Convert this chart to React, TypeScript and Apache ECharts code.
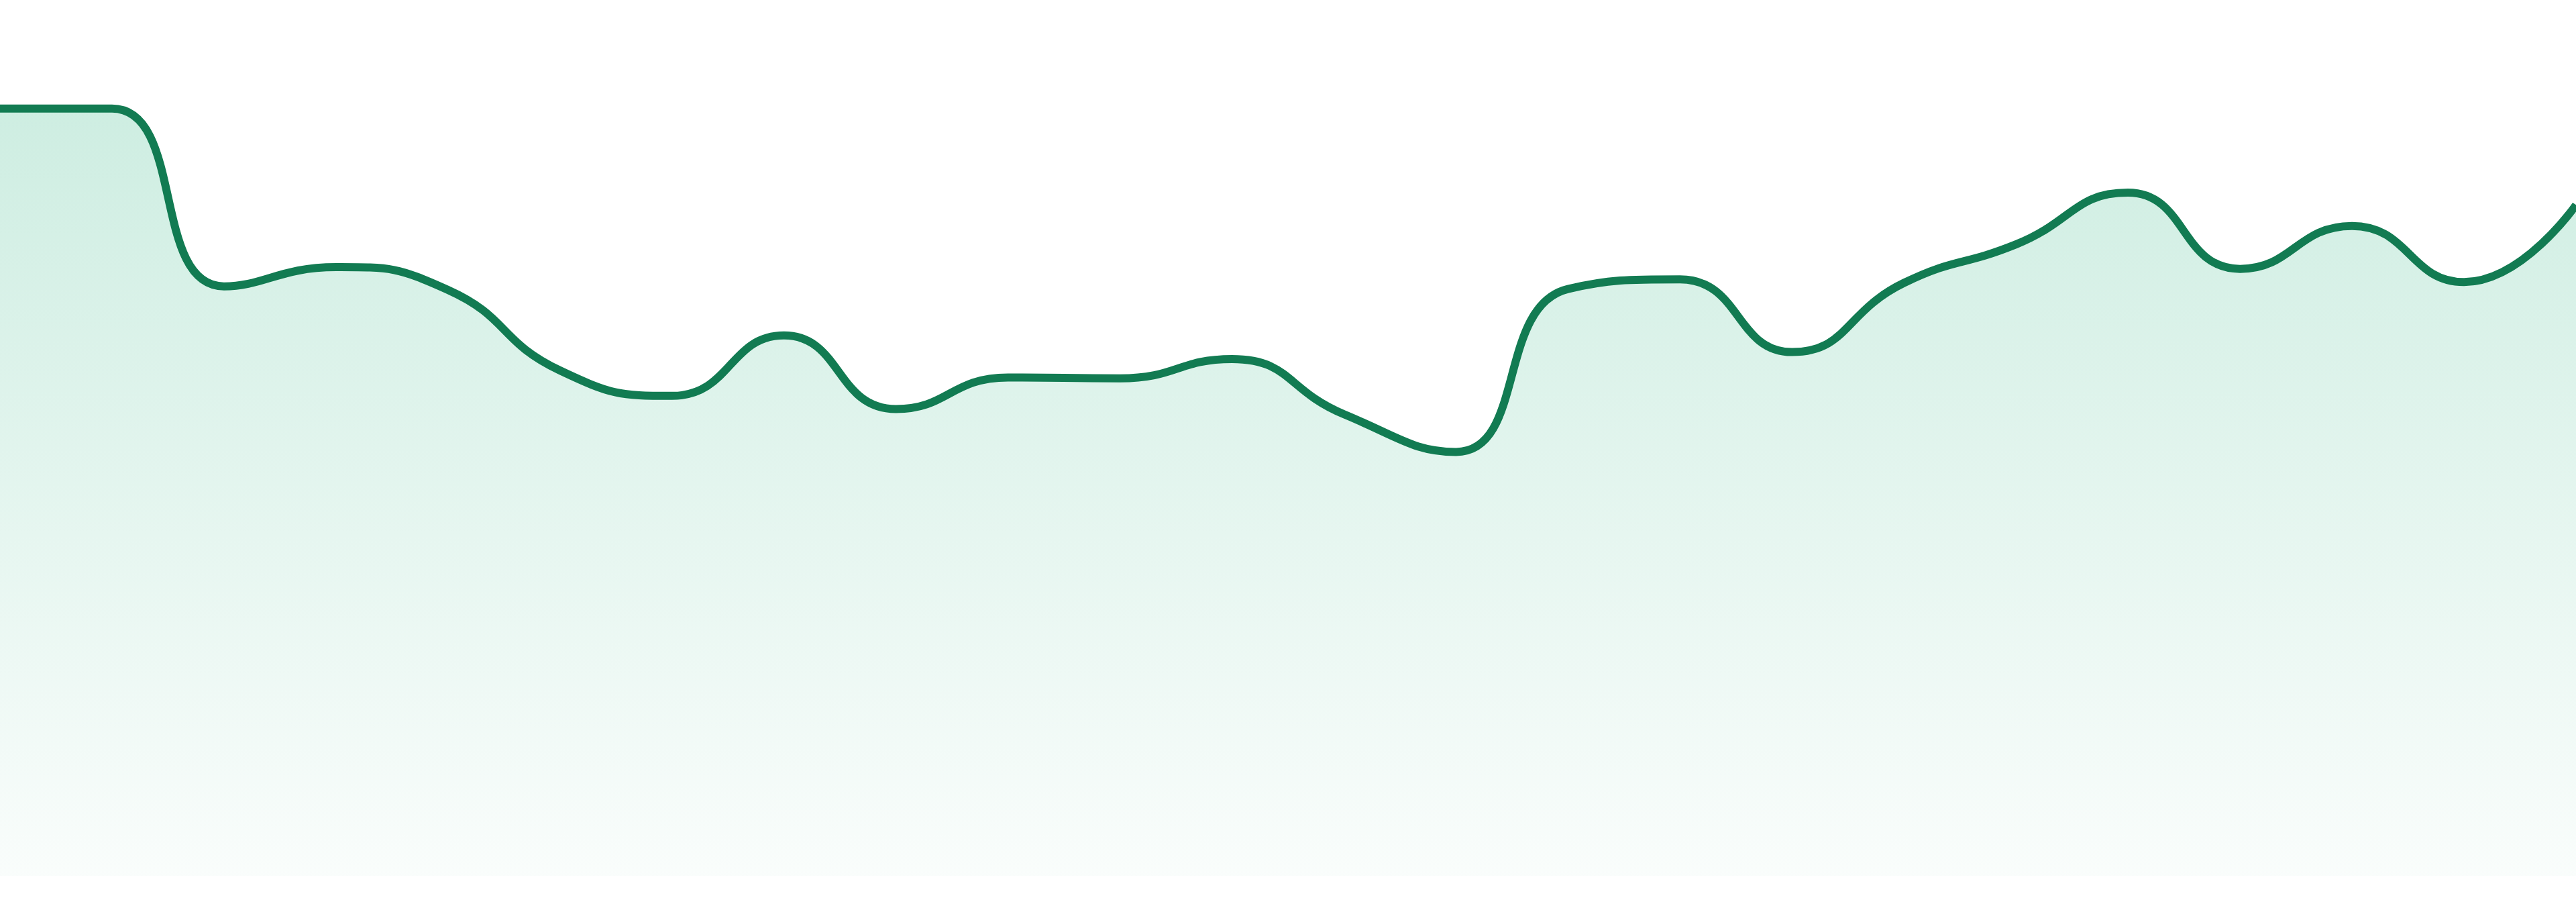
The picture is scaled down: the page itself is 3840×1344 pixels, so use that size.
import React, { useEffect, useRef } from "react";
import * as echarts from "echarts";

const categories: string[] = [
  "00:00", "01:00", "02:00", "03:00", "04:00", "05:00", "06:00", "07:00",
  "08:00", "09:00", "10:00", "11:00", "12:00", "13:00", "14:00", "15:00",
  "16:00", "17:00", "18:00", "19:00", "20:00", "21:00", "22:00", "23:00",
];

const values: number[] = [
  87.6, 87.6, 67.3, 69.5, 66.9, 57.7, 54.8, 61.7,
  53.3, 56.9, 56.8, 59.0, 52.7, 48.4, 67.0, 68.1,
  59.8, 67.7, 72.1, 78.0, 69.3, 74.2, 67.8, 76.6,
];

const yMin = 0;
const yMax = 100;

export default function App() {
  const ref = useRef<HTMLDivElement>(null);

  useEffect(() => {
    if (!ref.current) return;
    const chart = echarts.init(ref.current, undefined, { renderer: "svg" });
    chart.setOption({
      animation: false,
      backgroundColor: "#ffffff",
      grid: { left: 0, right: 0, top: 0, bottom: 39, containLabel: false },
      xAxis: {
        type: "category",
        data: categories,
        boundaryGap: false,
        show: false,
      },
      yAxis: {
        type: "value",
        min: yMin,
        max: yMax,
        show: false,
      },
      series: [
        {
          type: "line",
          data: values,
          smooth: true,
          symbol: "none",
          lineStyle: { color: "#127b52", width: 12 },
          areaStyle: {
            color: new echarts.graphic.LinearGradient(0, 0, 0, 1, [
              { offset: 0, color: "#b9e6d5" },
              { offset: 1, color: "#f7fcfa" },
            ]),
          },
        },
      ],
    });
    return () => chart.dispose();
  }, []);

  return (
    <div
      ref={ref}
      style={{ position: "fixed", left: 0, top: 0, width: 3840, height: 1344 }}
    />
  );
}
